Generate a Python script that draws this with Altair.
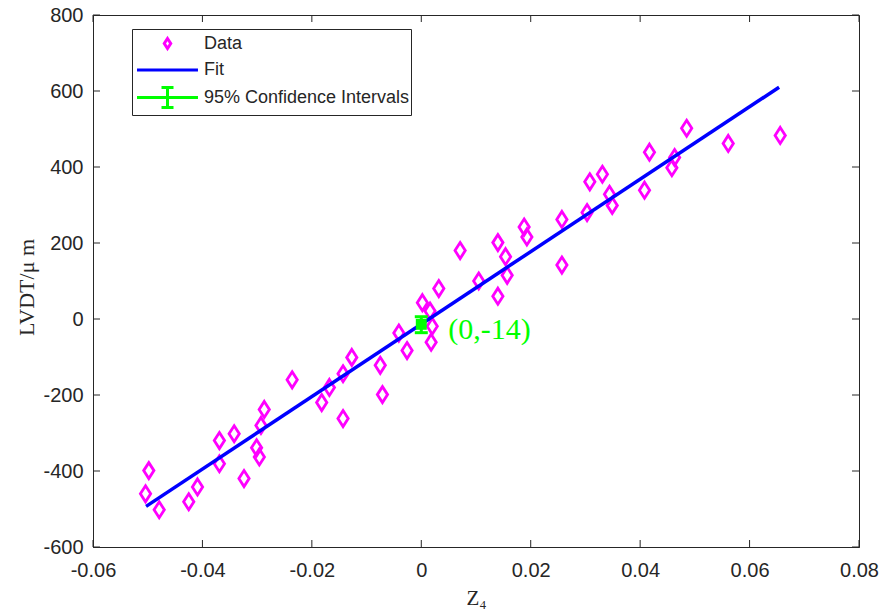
import altair as alt
import pandas as pd

# ---- data ----
x_data = [-0.0498, -0.0504, -0.0479, -0.0425, -0.0409, -0.0369, -0.0369, -0.0342, -0.0324, -0.0301,
          -0.0296, -0.0293, -0.0287, -0.0236, -0.0182, -0.0168, -0.0143, -0.0143, -0.0127, -0.0075,
          -0.0071, -0.0041, -0.0026, 0.0002, 0.0016, 0.0020, 0.0018, 0.0032, 0.0071, 0.0105,
          0.0140, 0.0140, 0.0154, 0.0157, 0.0188, 0.0193, 0.0257, 0.0257, 0.0303, 0.0308,
          0.0331, 0.0344, 0.0349, 0.0408, 0.0417, 0.0458, 0.0463, 0.0485, 0.0561, 0.0656]
y_data = [-399, -460, -502, -481, -442, -320, -381, -302, -420, -339,
          -363, -280, -238, -160, -220, -180, -262, -144, -101, -122,
          -199, -37, -83, 43, 21, -19, -61, 80, 180, 100,
          201, 60, 164, 115, 242, 216, 262, 142, 280, 361,
          381, 328, 299, 339, 439, 398, 425, 502, 462, 483]

fit_x = [-0.0503, 0.0654]
fit_y = [-493, 610]

ci_x = [0.0]
ci_center = [-14]
ci_low = [-36]
ci_high = [6]
ci_text = ["(0,-14)"]

legend_names = ["Data", "Fit", "95% Confidence Intervals"]
legend_colors = ["#FF00FF", "#0000FF", "#00FF00"]
legend_shapes = [
    "M0,-0.42L0.27,0L0,0.42L-0.27,0Z",
    "M-2.54,0L2.54,0",
    "M-2.54,0L2.54,0M0,-0.83L0,0.83M-0.5,-0.83L0.5,-0.83M-0.5,0.83L0.5,0.83",
]

x_ticks = [-0.06, -0.04, -0.02, 0, 0.02, 0.04, 0.06, 0.08]
y_ticks = [-600, -400, -200, 0, 200, 400, 600, 800]

W, H = 766, 532
AX = "#262626"

pts = pd.DataFrame({"x": x_data, "y": y_data, "series": ["Data"] * len(x_data)})
fit = pd.DataFrame({"x": fit_x, "y": fit_y})
ci = pd.DataFrame({"x": ci_x, "c": ci_center, "lo": ci_low, "hi": ci_high, "t": ci_text})
xt = pd.DataFrame({"v": x_ticks})
yt = pd.DataFrame({"v": y_ticks})

xscale = alt.Scale(domain=[-0.06, 0.08], nice=False, zero=False)
yscale = alt.Scale(domain=[-600, 800], nice=False, zero=False)

xaxis = alt.Axis(values=x_ticks, labelExpr="datum.value + ''", ticks=False, grid=False,
                 labelFlush=False, labelOverlap=False,
                 labelPadding=13, title="Z₄", titleX=W / 2, titleY=57,
                 titleBaseline="alphabetic", titleAlign="center", titleFontSize=21)
yaxis = alt.Axis(values=y_ticks, labelExpr="datum.value + ''", ticks=False, grid=False,
                 labelFlush=False, labelOverlap=False,
                 labelPadding=10, title="LVDT/μ m", titleAngle=270, titleX=-60, titleY=272,
                 titleBaseline="alphabetic", titleAlign="center", titleFontSize=22)

leg = alt.Legend(title=None, orient="none", legendX=39, legendY=14,
                 strokeColor=AX, fillColor="white", padding=1, rowPadding=1.5,
                 symbolSize=576, symbolStrokeWidth=3, symbolOffset=21, labelOffset=23,
                 labelExpr="datum.label + '\u00a0\u00a0'",
                 labelFont="Liberation Sans", labelFontSize=18, labelColor=AX, labelLimit=400)

points = alt.Chart(pts).mark_point(filled=False, strokeWidth=2.8, size=1450, opacity=1).encode(
    x=alt.X("x:Q", scale=xscale, axis=xaxis),
    y=alt.Y("y:Q", scale=yscale, axis=yaxis),
    color=alt.Color("series:N", scale=alt.Scale(domain=legend_names, range=legend_colors), legend=leg),
    shape=alt.Shape("series:N", scale=alt.Scale(domain=legend_names, range=legend_shapes), legend=leg),
)

line = alt.Chart(fit).mark_line(color="#0000FF", strokeWidth=3.5).encode(
    x=alt.X("x:Q", scale=xscale), y=alt.Y("y:Q", scale=yscale))

ci_rule = alt.Chart(ci).mark_rule(color="#00FF00", strokeWidth=3).encode(
    x=alt.X("x:Q", scale=xscale), y=alt.Y("lo:Q", scale=yscale), y2="hi:Q")
ci_lo = alt.Chart(ci).mark_tick(color="#00FF00", orient="horizontal", size=13, thickness=3, opacity=1).encode(
    x=alt.X("x:Q", scale=xscale), y=alt.Y("lo:Q", scale=yscale))
ci_hi = alt.Chart(ci).mark_tick(color="#00FF00", orient="horizontal", size=13, thickness=3, opacity=1).encode(
    x=alt.X("x:Q", scale=xscale), y=alt.Y("hi:Q", scale=yscale))
ci_pt = alt.Chart(ci).mark_point(shape="square", filled=True, color="#00FF00", size=120, opacity=1).encode(
    x=alt.X("x:Q", scale=xscale), y=alt.Y("c:Q", scale=yscale))
ci_label = alt.Chart(ci).mark_text(color="#00FF00", font="Liberation Serif", fontSize=30,
                                   align="left", baseline="alphabetic", dx=27, dy=15).encode(
    x=alt.X("x:Q", scale=xscale), y=alt.Y("c:Q", scale=yscale), text="t:N")

tk = dict(color=AX, strokeWidth=1)
xt_bot = alt.Chart(xt).mark_rule(**tk).encode(x=alt.X("v:Q", scale=xscale), y=alt.value(H), y2=alt.value(H - 7))
xt_top = alt.Chart(xt).mark_rule(**tk).encode(x=alt.X("v:Q", scale=xscale), y=alt.value(0), y2=alt.value(7))
yt_left = alt.Chart(yt).mark_rule(**tk).encode(y=alt.Y("v:Q", scale=yscale), x=alt.value(0), x2=alt.value(7))
yt_right = alt.Chart(yt).mark_rule(**tk).encode(y=alt.Y("v:Q", scale=yscale), x=alt.value(W), x2=alt.value(W - 7))

chart = alt.layer(
    xt_bot, xt_top, yt_left, yt_right,
    points, line, ci_rule, ci_lo, ci_hi, ci_pt, ci_label
).properties(
    width=W, height=H,
    padding={"left": 93, "top": 15, "right": 23, "bottom": 66},
    autosize=alt.AutoSizeParams(type="none"),
    background="white",
).configure_view(
    stroke=AX, strokeWidth=1
).configure_axis(
    labelFont="Liberation Sans", labelFontSize=20, labelColor=AX,
    titleFont="Liberation Serif", titleFontWeight="normal", titleColor=AX,
    domainColor=AX, domainWidth=1,
)

chart.save("out.html", embed_options={"renderer": "svg", "actions": False})
